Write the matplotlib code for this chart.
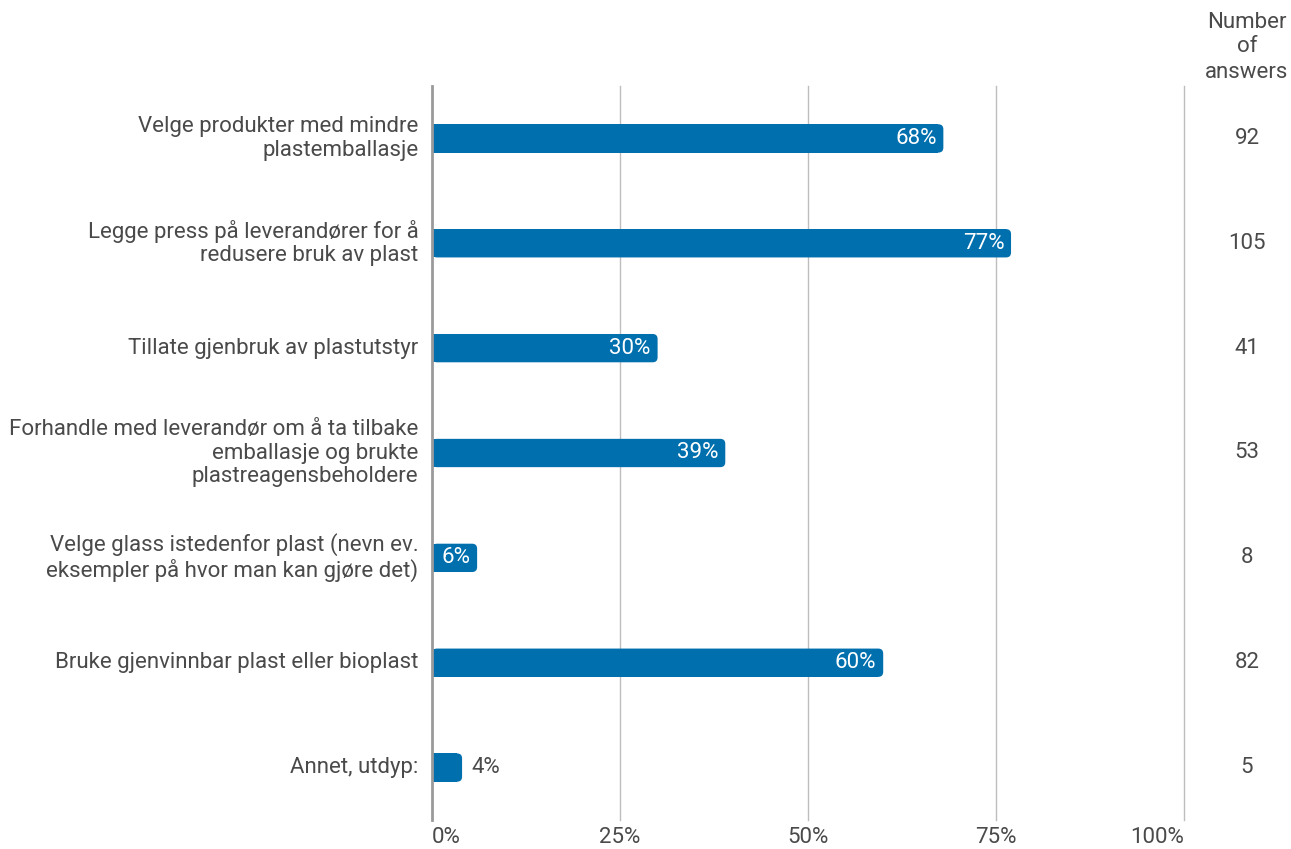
import matplotlib
matplotlib.use("Agg")
import matplotlib.pyplot as plt
from matplotlib.patches import FancyBboxPatch, Rectangle

plt.rcParams['font.family'] = ['Roboto', 'DejaVu Sans']

categories = [
    "Velge produkter med mindre\nplastemballasje",
    "Legge press på leverandører for å\nredusere bruk av plast",
    "Tillate gjenbruk av plastutstyr",
    "Forhandle med leverandør om å ta tilbake\nemballasje og brukte\nplastreagensbeholdere",
    "Velge glass istedenfor plast (nevn ev.\neksempler på hvor man kan gjøre det)",
    "Bruke gjenvinnbar plast eller bioplast",
    "Annet, utdyp:",
]
percent = [68, 77, 30, 39, 6, 60, 4]
answers = [92, 105, 41, 53, 8, 82, 5]
xticks = [0, 25, 50, 75, 100]

W, H = 1291, 849
fig = plt.figure(figsize=(W / 100, H / 100), dpi=100)
x0, x1 = 432, 1184
y_top, y_bot = 86, 820
ax = fig.add_axes([x0 / W, 1 - y_bot / H, (x1 - x0) / W, (y_bot - y_top) / H])

n = len(categories)
ax.set_xlim(0, 100)
ax.set_ylim(n - 0.5, -0.5)

bar_color = "#006FAE"
text_color = "#4a4a4a"
fs = 16
bar_h = 0.27

px_x = 100 / (x1 - x0)
px_y = n / (y_bot - y_top)
r_px = 5
rx = r_px * px_x
ry = r_px * px_y

for t in xticks[1:]:
    ax.axvline(t, color="#bdbdbd", lw=1.0, zorder=0, clip_on=False)
ax.axvline(0, color="#9a9a9a", lw=2.0, zorder=3, clip_on=False)

for i, v in enumerate(percent):
    yb = i - bar_h / 2
    box = FancyBboxPatch((0, yb), v, bar_h,
                         boxstyle=f"round,pad=0,rounding_size={rx}",
                         mutation_aspect=ry / rx,
                         fc=bar_color, ec="none", zorder=2)
    ax.add_patch(box)
    ax.add_patch(Rectangle((0, yb), max(v - rx, 0), bar_h, fc=bar_color, ec="none", zorder=2))
    if v >= 6:
        ax.text(v - 0.9, i, f"{v}%", ha="right", va="center", color="white",
                fontsize=fs, zorder=4)
    else:
        ax.text(v + 1.3, i, f"{v}%", ha="left", va="center", color=text_color,
                fontsize=fs, zorder=4)
    ax.text(-1.8, i, categories[i], ha="right", va="center", color=text_color,
            fontsize=fs, linespacing=1.15)
    fig.text(1247 / W, 1 - (y_top + (i + 0.5) * (y_bot - y_top) / n) / H, str(answers[i]),
             ha="center", va="center", color=text_color, fontsize=fs)

fig.text(1247 / W, 1 - 47 / H, "Number\nof\nanswers", ha="center", va="center",
         color=text_color, fontsize=fs, linespacing=1.25)

ax.set_xticks(xticks)
labels = ax.set_xticklabels([f"{t}%" for t in xticks], color=text_color, fontsize=fs)
labels[0].set_ha("left")
labels[-1].set_ha("right")
ax.tick_params(axis="x", length=0, pad=5)
ax.set_yticks([])
for s in ax.spines.values():
    s.set_visible(False)

fig.savefig("out.png", dpi=100)
